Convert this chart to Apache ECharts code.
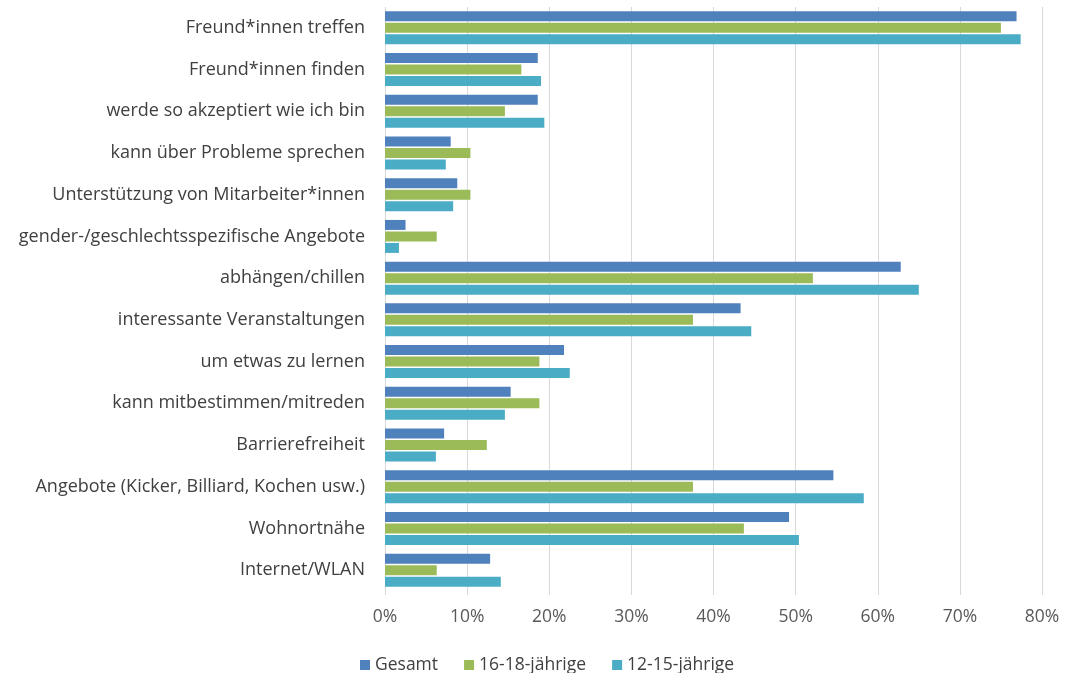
<!DOCTYPE html>
<html>
<head>
<meta charset="utf-8">
<script src="https://cdn.jsdelivr.net/npm/echarts@6/dist/echarts.min.js"></script>
<style>
  html, body { margin: 0; padding: 0; background: #fff; }
  #chart { width: 1079px; height: 673px; }
</style>
</head>
<body>
<div id="chart"></div>
<script>
// categories top to bottom
const categories = [
  'Freund*innen treffen',
  'Freund*innen finden',
  'werde so akzeptiert wie ich bin',
  'kann über Probleme sprechen',
  'Unterstützung von Mitarbeiter*innen',
  'gender-/geschlechtsspezifische Angebote',
  'abhängen/chillen',
  'interessante Veranstaltungen',
  'um etwas zu lernen',
  'kann mitbestimmen/mitreden',
  'Barrierefreiheit',
  'Angebote (Kicker, Billiard, Kochen usw.)',
  'Wohnortnähe',
  'Internet/WLAN'
]
const gesamt = [76.9, 18.6, 18.6, 8.0, 8.8, 2.5, 62.8, 43.3, 21.8, 15.3, 7.2, 54.6, 49.2, 12.8]
const jahre16bis18 = [75.0, 16.6, 14.6, 10.4, 10.4, 6.3, 52.1, 37.5, 18.8, 18.8, 12.4, 37.5, 43.7, 6.3]
const jahre12bis15 = [77.4, 19.0, 19.4, 7.4, 8.3, 1.7, 65.0, 44.6, 22.5, 14.6, 6.2, 58.3, 50.4, 14.1]
const seriesNames = ['Gesamt', '16-18-jährige', '12-15-jährige']

const font = '"Open Sans", sans-serif'
const colors = ['#4F81BD', '#9BBB59', '#4BACC6']

const chart = echarts.init(document.getElementById('chart'))

function bar(name, data, color) {
  return {
    name,
    type: 'bar',
    data,
    barWidth: 10,
    barGap: '15%',
    itemStyle: { color },
    emphasis: { disabled: true }
  }
}

chart.setOption({
  animation: false,
  textStyle: { fontFamily: font },
  grid: { left: 385, right: 37, top: 7, bottom: 82, containLabel: false },
  legend: {
    left: 355,
    top: 651,
    itemWidth: 10,
    itemHeight: 10,
    itemGap: 26,
    icon: 'rect',
    textStyle: { fontSize: 17.5, color: '#404040', fontFamily: font },
    data: seriesNames
  },
  xAxis: {
    type: 'value',
    min: 0,
    max: 80,
    interval: 10,
    axisLine: { show: false },
    axisTick: { show: true, length: 4, lineStyle: { color: '#d9d9d9' } },
    splitLine: { show: true, lineStyle: { color: '#d9d9d9', width: 1 } },
    axisLabel: {
      formatter: '{value}%',
      fontSize: 17.5,
      color: '#595959',
      margin: 17
    }
  },
  yAxis: {
    type: 'category',
    inverse: true,
    data: categories,
    axisLine: { show: false },
    axisTick: { show: false },
    axisLabel: { fontSize: 18, color: '#404040', margin: 20 }
  },
  series: [
    bar(seriesNames[0], gesamt, colors[0]),
    bar(seriesNames[1], jahre16bis18, colors[1]),
    bar(seriesNames[2], jahre12bis15, colors[2])
  ]
})

window.addEventListener('resize', () => chart.resize())
</script>
</body>
</html>
